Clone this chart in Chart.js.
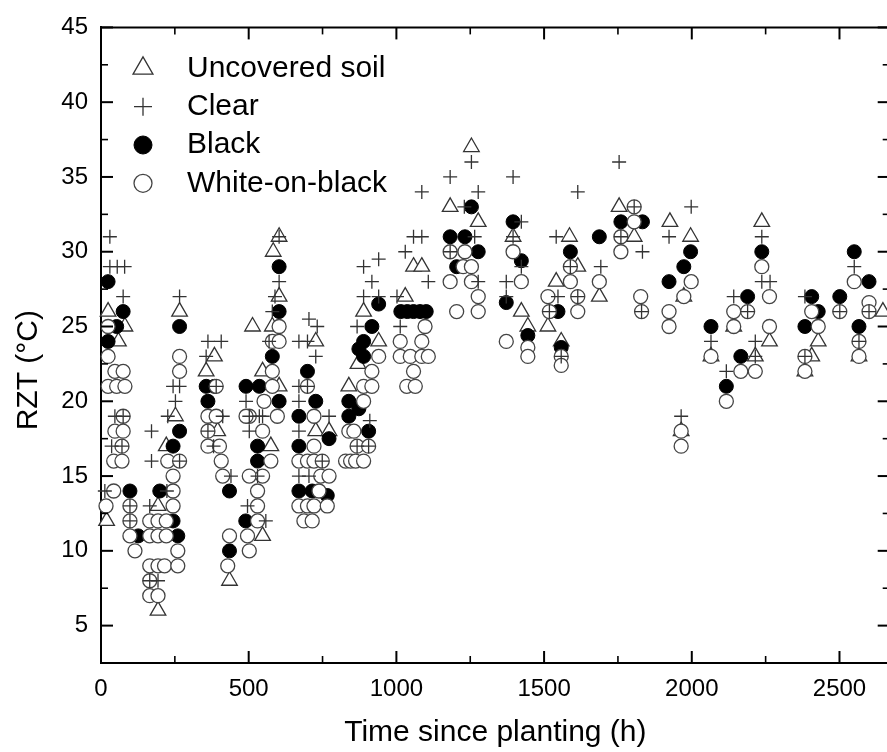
<!DOCTYPE html>
<html>
<head>
<meta charset="utf-8">
<title>RZT vs time since planting</title>
<script src="https://cdn.jsdelivr.net/npm/chart.js@4.4.1/dist/chart.umd.min.js"></script>
<style>
  html, body { margin: 0; padding: 0; background: #fff; overflow: hidden; }
  canvas { display: block; }
</style>
</head>
<body>
<canvas id="rztChart" width="900" height="752"></canvas>
<script>
// [hours since planting, RZT in degC]
const uncovered = [
  [24,26],[59,24],[81,25],[19,12],
  [193,13],[193,6],[221,17],[252,19],[266,26],
  [356,22],[384,23],[395,18],[435,8],
  [513,25],[547,22],[547,11],[575,17],[583,30],[580,25],[603,31],[603,27],[603,21],
  [727,24],[727,18],[772,18],[839,21],[870,22.5],[889,26],[940,24],
  [1030,27],[1058,29],[1086,29],[1182,33],[1254,37],[1277,32],[1395,31],[1423,26],[1445,25],[1513,25],
  [1541,28],[1558,24],[1586,31],[1614,29],[1687,27],
  [1754,33],[1805,31],[1926,32],[1964,18],[1973,27],[1996,31],[2065,23],[2142,25],[2215,23],[2237,32],
  [2263,24],[2383,22],[2406,23],[2428,24],[2566,23],[2647,26]
];
const clear = [
  [30,31],[30,29],[55,29],[80,29],[75,27],[13,14],[36,17],[47,19],[75,19],[71,17],[98,13],[98,12],
  [165,13],[165,8],[171,18],[171,16],[193,8],[223,14],[226,19],[244,21],[252,20],[266,21],[266,27],[266,16],
  [356,23],[362,24],[407,24],[381,17],[412,19],[440,15],[390,21],[362,18],
  [491,20],[502,19],[502,18],[536,19],[547,19],[530,15],[496,13],[558,12],[569,24],[580,26],[589,27],[603,31],[603,28],
  [670,24],[699,24],[704,25.5],[732,25],[727,23],[670,21],[699,21],[670,20],[772,19],[670,18],[670,15],[704,15],[749,16],
  [867,25],[867,17],[906,17],[910,18.7],[889,29],[940,29.5],[917,28],[889,27],[940,27],
  [1002,27],[1013,25],[1030,30],[1058,31],[1086,31],[1086,34],[1108,28],
  [1182,35],[1182,30],[1230,33],[1254,36],[1265,31],[1277,34],[1277,28],[1372,28],[1372,27],[1395,35],[1395,31],
  [1423,32],[1423,29],[1518,26],[1541,31],[1547,27],[1558,23],[1589,29],[1614,34],[1614,27],[1692,29],
  [1754,36],[1760,31],[1805,33],[1833,30],[1830,26],[1923,31],[1964,19],[1998,33],
  [2065,24],[2117,22],[2142,27],[2189,26],[2215,24],[2215,23],[2237,31],[2237,28],[2265,28],
  [2383,27],[2383,23],[2501,26],[2550,29],[2566,24],[2600,26]
];
const black = [
  [24,28],[75,26],[53,25],[24,24],[98,14],[126,11],
  [199,14],[244,17],[244,12],[260,11],[266,25],[266,18],
  [356,21],[384,21],[362,20],[435,14],[435,10],
  [491,21],[536,21],[530,17],[530,16],[490,12],[603,20],[603,29],[603,26],[580,23],
  [699,22],[727,20],[670,19],[772,17.5],[670,17],[670,14],[715,14],[766,13.7],
  [839,20],[839,19],[873,19.5],[906,18],[940,26.5],[917,25],[889,24],[873,23.5],[889,23],
  [1015,26],[1037,26],[1058,26],[1080,26],[1101,26],
  [1182,31],[1204,29],[1232,31],[1254,33],[1277,30],[1372,26.6],[1395,32],[1423,29.4],[1445,24.4],
  [1547,26],[1558,23.6],[1589,30],
  [1687,31],[1760,32],[1833,32],[1923,28],[1973,29],[1996,30],
  [2065,25],[2117,21],[2166,23],[2189,27],[2237,30],[2383,25],[2406,27],[2428,26],[2501,27],[2550,30],[2566,25],[2600,28]
];
const whiteOnBlack = [
  [24,25],[24,23],[47,22],[75,22],[24,21],[53,21],[81,21],[75,19],[47,18],[75,18],[71,17],[43,16],[71,16],
  [43,14],[17,13],[98,13],[98,12],[98,11],[115,10],
  [165,12],[193,12],[221,12],[165,11],[193,11],[221,11],[165,9],[193,9],[215,9],[260,9],[260,10],[165,8],[165,7],[193,7],
  [226,16],[266,16],[244,15],[244,14],[244,13],[266,23],[266,22],
  [362,19],[390,19],[390,21],[362,18],[362,17],[401,17],[407,16],[412,15],[435,11],[429,9],
  [502,19],[491,19],[552,20],[597,19],[547,18],[575,16],[502,15],[547,15],[530,14],[530,13],[530,12],[496,11],[502,10],
  [580,24],[603,24],[603,25],[580,22],[580,21],
  [699,21],[721,19],[721,17],[670,16],[699,16],[721,16],[749,16],[744,15],[772,15],[738,14],
  [670,13],[699,13],[721,13],[766,13],[687,12],[715,12],
  [889,20],[839,18],[856,18],[867,17],[906,17],[828,16],[845,16],[862,16],[889,16],
  [940,23],[917,22],[889,21],[917,21],
  [1013,24],[1086,24],[1097,25],[1013,23],[1047,23],[1086,23],[1108,23],[1058,22],[1035,21],[1064,21],
  [1182,30],[1232,30],[1226,29],[1254,29],[1182,28],[1254,28],[1204,26],[1277,26],[1277,27],[1372,24],[1395,30],
  [1423,28],[1445,23.6],[1445,23],[1513,27],[1518,26],[1558,23],[1558,22.4],[1589,29],[1589,28],[1614,27],[1614,26],[1687,28],
  [1760,31],[1760,30],[1805,33],[1805,32],[1827,27],[1830,26],[1923,26],[1923,25],[1964,18],[1964,17],[1973,27],[1998,28],
  [2065,23],[2117,20],[2142,26],[2142,25],[2166,22],[2189,26],[2215,22],[2237,29],[2263,27],[2263,25],
  [2383,23],[2383,22],[2406,26],[2428,25],[2501,26],[2550,28],[2566,24],[2566,23],[2600,26.6],[2600,26]
];
const xTicks = [0, 500, 1000, 1500, 2000, 2500];
const yTicks = [5, 10, 15, 20, 25, 30, 35, 40, 45];

const FONT = 'Arial, "Liberation Sans", Helvetica, sans-serif';
Chart.defaults.font.family = FONT;
Chart.defaults.color = '#000';

const toPoints = arr => arr.map(p => ({ x: p[0], y: p[1] }));

function minorOf(ticks, min, max) {
  const out = [];
  const step = ticks[1] - ticks[0];
  const list = [ticks[0] - step / 2].concat(ticks.map(t => t + step / 2));
  list.forEach(v => { if (v > min && v < max) out.push(v); });
  return out;
}

// axis frame + inward major/minor ticks on all four sides
const frameTicks = {
  id: 'frameTicks',
  afterDraw(chart) {
    const { ctx, chartArea: a, scales: { x, y } } = chart;
    const seg = (x1, y1, x2, y2) => { ctx.beginPath(); ctx.moveTo(x1, y1); ctx.lineTo(x2, y2); ctx.stroke(); };
    ctx.save();
    ctx.strokeStyle = '#000';
    ctx.lineWidth = 2;
    seg(a.left, a.top, a.right, a.top);
    seg(a.right, a.top, a.right, a.bottom);
    xTicks.forEach(v => {
      const px = x.getPixelForValue(v);
      seg(px, a.bottom, px, a.bottom - 12);
      seg(px, a.top, px, a.top + 12);
    });
    yTicks.forEach(v => {
      const py = y.getPixelForValue(v);
      seg(a.left, py, a.left + 12, py);
      seg(a.right, py, a.right - 12, py);
    });
    ctx.lineWidth = 1.6;
    minorOf(xTicks, x.min, x.max).forEach(v => {
      const px = x.getPixelForValue(v);
      seg(px, a.bottom, px, a.bottom - 7);
      seg(px, a.top, px, a.top + 7);
    });
    minorOf(yTicks, y.min, y.max).forEach(v => {
      const py = y.getPixelForValue(v);
      seg(a.left, py, a.left + 7, py);
      seg(a.right, py, a.right - 7, py);
    });
    ctx.restore();
  }
};

// legend inside the plot, top left
const insideLegend = {
  id: 'insideLegend',
  afterDraw(chart) {
    const { ctx, chartArea: a } = chart;
    const sizes = { triangle: 11.5, cross: 9, circle: 9 };
    ctx.save();
    chart.data.datasets.forEach((ds, i) => {
      const cy = a.top + 41 + i * 38.3;
      const cx = a.left + 42;
      ctx.fillStyle = ds.backgroundColor;
      ctx.strokeStyle = ds.borderColor;
      ctx.lineWidth = ds.borderWidth;
      Chart.helpers.drawPoint(ctx, { pointStyle: ds.pointStyle, radius: sizes[ds.pointStyle], rotation: 0, borderWidth: ds.borderWidth }, cx, cy);
      ctx.fillStyle = '#000';
      ctx.font = '30px ' + FONT;
      ctx.textBaseline = 'middle';
      ctx.textAlign = 'left';
      ctx.fillText(ds.label, a.left + 86, cy);
    });
    ctx.restore();
  }
};

new Chart(document.getElementById('rztChart'), {
  type: 'scatter',
  data: {
    datasets: [
      { label: 'Uncovered soil', data: toPoints(uncovered), pointStyle: 'triangle', pointRadius: 9,
        backgroundColor: '#fff', borderColor: '#333', borderWidth: 1.3, order: 3, clip: false },
      { label: 'Clear', data: toPoints(clear), pointStyle: 'cross', pointRadius: 7,
        backgroundColor: '#fff', borderColor: '#333', borderWidth: 1.3, order: 0, clip: false },
      { label: 'Black', data: toPoints(black), pointStyle: 'circle', pointRadius: 7,
        backgroundColor: '#000', borderColor: '#000', borderWidth: 1, order: 2, clip: false },
      { label: 'White-on-black', data: toPoints(whiteOnBlack), pointStyle: 'circle', pointRadius: 7,
        backgroundColor: '#fff', borderColor: '#444', borderWidth: 1.3, order: 1, clip: false }
    ]
  },
  options: {
    responsive: false,
    animation: false,
    layout: { padding: { top: 25, right: 6, left: 0, bottom: 0 } },
    plugins: {
      legend: { display: false },
      tooltip: { enabled: false }
    },
    scales: {
      x: {
        type: 'linear',
        min: 0,
        max: 2670,
        afterBuildTicks: s => { s.ticks = xTicks.map(v => ({ value: v })); },
        afterFit: s => { s.height = 89; },
        grid: { display: false, drawTicks: false },
        border: { display: true, color: '#000', width: 2 },
        ticks: { color: '#000', font: { size: 24 }, padding: 12, maxRotation: 0, autoSkip: false,
                 callback: v => String(v) },
        title: { display: true, text: 'Time since planting (h)', color: '#000',
                 font: { size: 30, lineHeight: 1.2 }, padding: { top: 0, bottom: 1 } }
      },
      y: {
        type: 'linear',
        min: 2.5,
        max: 45,
        afterBuildTicks: s => { s.ticks = yTicks.map(v => ({ value: v })); },
        afterFit: s => { s.width = 101; },
        grid: { display: false, drawTicks: false },
        border: { display: true, color: '#000', width: 2 },
        ticks: { color: '#000', font: { size: 24 }, padding: 13, autoSkip: false,
                 callback: v => String(v) },
        title: { display: true, text: 'RZT (\u00b0C)' + '\u00a0'.repeat(6), color: '#000',
                 font: { size: 30, lineHeight: 1.2 }, padding: { top: 11, bottom: 0 } }
      }
    }
  },
  plugins: [frameTicks, insideLegend]
});
</script>
</body>
</html>
